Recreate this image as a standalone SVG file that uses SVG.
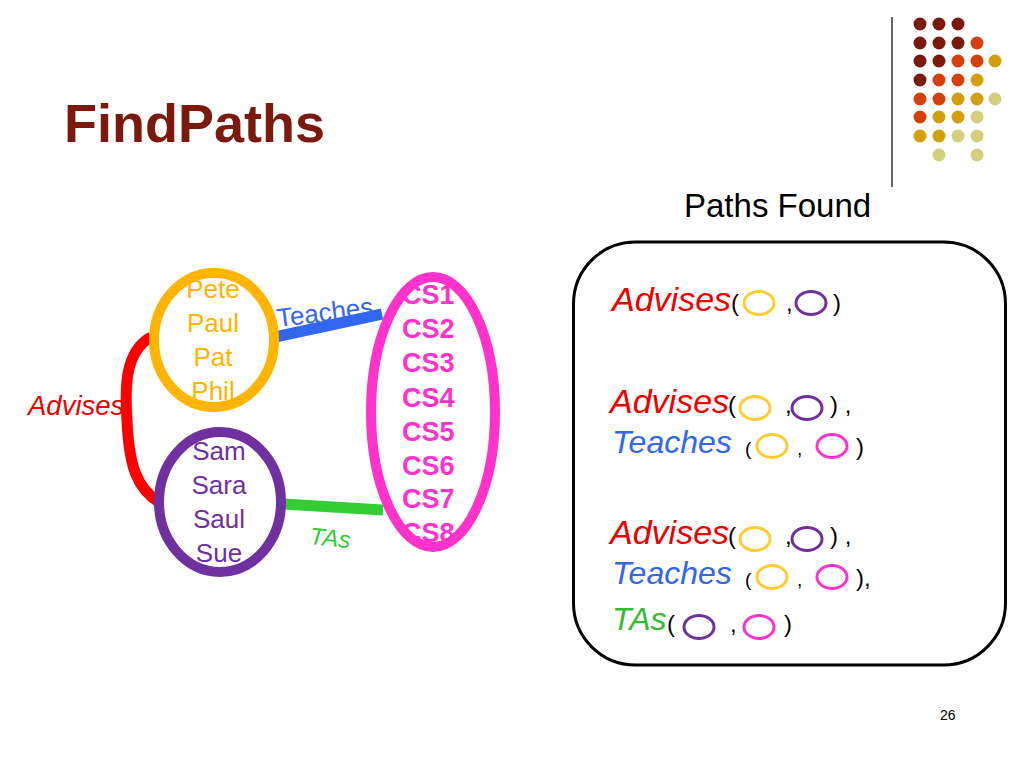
<svg xmlns="http://www.w3.org/2000/svg" width="1024" height="768" viewBox="0 0 1024 768">
<defs>
<style>
text{font-family:"Liberation Sans",Arial,sans-serif}
.dr{fill:#7b1a0c}.or{fill:#d6400f}.gd{fill:#d49f0f}.pl{fill:#d5cf7d}
.yn{fill:#ffb400;font-size:26px;text-anchor:middle}
.pn{fill:#7030a0;font-size:26px;text-anchor:middle}
.cs{fill:#ff33cc;font-size:27px;font-weight:bold}
.big{fill:none;stroke-width:10}
.lbl{font-style:italic;font-size:32px}
.adv{font-size:34px}
.p{fill:#000;font-size:24px}
.ps{fill:#000;font-size:19px}
.sy{fill:none;stroke:#ffcc33;stroke-width:3}
.sp{fill:none;stroke:#7030a0;stroke-width:3}
.sk{fill:none;stroke:#ff33cc;stroke-width:3}
</style>
<clipPath id="cy"><ellipse cx="214" cy="340" rx="60" ry="67"/></clipPath>
<clipPath id="cp"><ellipse cx="220" cy="502" rx="61" ry="70"/></clipPath>
<clipPath id="ck"><ellipse cx="433" cy="412" rx="62" ry="135"/></clipPath>
</defs>
<rect width="1024" height="768" fill="#fff"/>
<g id="decor">
<line x1="892" y1="17" x2="892" y2="187" stroke="#333" stroke-width="1.5"/>
<g>
<circle class="dr" cx="920" cy="24" r="6.5"/><circle class="dr" cx="939" cy="24" r="6.5"/><circle class="dr" cx="958" cy="24" r="6.5"/>
<circle class="dr" cx="920" cy="43" r="6.5"/><circle class="dr" cx="939" cy="43" r="6.5"/><circle class="dr" cx="958" cy="43" r="6.5"/><circle class="or" cx="977" cy="43" r="6.5"/>
<circle class="dr" cx="920" cy="61" r="6.5"/><circle class="dr" cx="939" cy="61" r="6.5"/><circle class="or" cx="958" cy="61" r="6.5"/><circle class="or" cx="977" cy="61" r="6.5"/><circle class="gd" cx="995" cy="61" r="6.5"/>
<circle class="dr" cx="920" cy="80" r="6.5"/><circle class="or" cx="939" cy="80" r="6.5"/><circle class="or" cx="958" cy="80" r="6.5"/><circle class="gd" cx="977" cy="80" r="6.5"/>
<circle class="or" cx="920" cy="99" r="6.5"/><circle class="or" cx="939" cy="99" r="6.5"/><circle class="gd" cx="958" cy="99" r="6.5"/><circle class="gd" cx="977" cy="99" r="6.5"/><circle class="pl" cx="995" cy="99" r="6.5"/>
<circle class="or" cx="920" cy="117" r="6.5"/><circle class="gd" cx="939" cy="117" r="6.5"/><circle class="gd" cx="958" cy="117" r="6.5"/><circle class="pl" cx="977" cy="117" r="6.5"/>
<circle class="gd" cx="920" cy="136" r="6.5"/><circle class="gd" cx="939" cy="136" r="6.5"/><circle class="pl" cx="958" cy="136" r="6.5"/><circle class="pl" cx="977" cy="136" r="6.5"/>
<circle class="pl" cx="939" cy="155" r="6.5"/><circle class="pl" cx="977" cy="155" r="6.5"/>
</g>
</g>
<text x="64" y="142" font-size="54" font-weight="bold" fill="#7b1a0c">FindPaths</text>
<text x="684" y="217" font-size="33" fill="#000">Paths Found</text>

<g id="connectors">
<path d="M151,337 C124,352 125,390 127,420 C129,465 136,488 160,503" fill="none" stroke="#ff0000" stroke-width="11"/>
<line x1="275" y1="337" x2="382" y2="314" stroke="#3366ee" stroke-width="11"/>
<line x1="283" y1="504" x2="383" y2="510" stroke="#33cc33" stroke-width="11"/>
<text x="28" y="415" font-size="27.5" font-style="italic" fill="#ee0000">Advises</text>
<text x="278" y="327" font-size="26" fill="#3366ee" transform="rotate(-7 278 327)">Teaches</text>
<text x="309" y="544" font-size="24" font-style="italic" fill="#33cc33" transform="rotate(6 309 544)">TAs</text>
</g>

<g id="advisors">
<g clip-path="url(#cy)">
<text class="yn" x="213" y="298">Pete</text>
<text class="yn" x="213" y="332">Paul</text>
<text class="yn" x="213" y="366">Pat</text>
<text class="yn" x="213" y="400">Phil</text>
</g>
<ellipse class="big" cx="214" cy="340" rx="60" ry="67" stroke="#ffb400"/>
</g>
<g id="students">
<g clip-path="url(#cp)">
<text class="pn" x="219" y="460">Sam</text>
<text class="pn" x="219" y="494">Sara</text>
<text class="pn" x="219" y="528">Saul</text>
<text class="pn" x="219" y="562">Sue</text>
</g>
<ellipse class="big" cx="220" cy="502" rx="61" ry="70" stroke="#7030a0"/>
</g>
<g id="courses">
<g clip-path="url(#ck)">
<text class="cs" x="402" y="304">CS1</text>
<text class="cs" x="402" y="338">CS2</text>
<text class="cs" x="402" y="372">CS3</text>
<text class="cs" x="402" y="407">CS4</text>
<text class="cs" x="402" y="441">CS5</text>
<text class="cs" x="402" y="475">CS6</text>
<text class="cs" x="402" y="508">CS7</text>
<text class="cs" x="402" y="542">CS8</text>
</g>
<ellipse class="big" cx="433" cy="412" rx="62" ry="135" stroke="#ff33cc"/>
</g>

<g id="paths-found">
<rect x="573.5" y="242" width="432" height="423" rx="62" fill="none" stroke="#000" stroke-width="3"/>
<text class="lbl adv" x="612" y="311" fill="#ee0000">Advises</text>
<text class="p" x="731" y="311">(</text>
<ellipse class="sy" cx="759" cy="303" rx="15" ry="11.5"/>
<text class="p" x="786" y="311">,</text>
<ellipse class="sp" cx="811" cy="303" rx="15" ry="11.5"/>
<text class="p" x="833" y="311">)</text>

<text class="lbl adv" x="610" y="413" fill="#ee0000">Advises</text>
<text class="p" x="728" y="413">(</text>
<ellipse class="sy" cx="755" cy="408" rx="15" ry="11.5"/>
<text class="p" x="785" y="413">,</text>
<ellipse class="sp" cx="807" cy="408" rx="15" ry="11.5"/>
<text class="p" x="830" y="413">) ,</text>
<text class="lbl" x="612" y="453" fill="#3366ee">Teaches</text>
<text class="ps" x="745" y="455">(</text>
<ellipse class="sy" cx="772" cy="446" rx="15" ry="11.5"/>
<text class="ps" x="797" y="455">,</text>
<ellipse class="sk" cx="832" cy="446" rx="15" ry="11.5"/>
<text class="p" x="856" y="455">)</text>

<text class="lbl adv" x="610" y="544" fill="#ee0000">Advises</text>
<text class="p" x="728" y="544">(</text>
<ellipse class="sy" cx="755" cy="539" rx="15" ry="11.5"/>
<text class="p" x="785" y="544">,</text>
<ellipse class="sp" cx="807" cy="539" rx="15" ry="11.5"/>
<text class="p" x="830" y="544">) ,</text>
<text class="lbl" x="612" y="584" fill="#3366ee">Teaches</text>
<text class="ps" x="745" y="586">(</text>
<ellipse class="sy" cx="772" cy="577" rx="15" ry="11.5"/>
<text class="ps" x="797" y="586">,</text>
<ellipse class="sk" cx="832" cy="577" rx="15" ry="11.5"/>
<text class="p" x="856" y="586">),</text>
<text class="lbl" x="612" y="630" fill="#33bb33" font-size="30">TAs</text>
<text class="p" x="667" y="632">(</text>
<ellipse class="sp" cx="699" cy="627" rx="15" ry="11.5"/>
<text class="p" x="730" y="632">,</text>
<ellipse class="sk" cx="759" cy="627" rx="15" ry="11.5"/>
<text class="p" x="784" y="632">)</text>
</g>
<text x="940" y="720" font-size="14" fill="#000">26</text>
</svg>
